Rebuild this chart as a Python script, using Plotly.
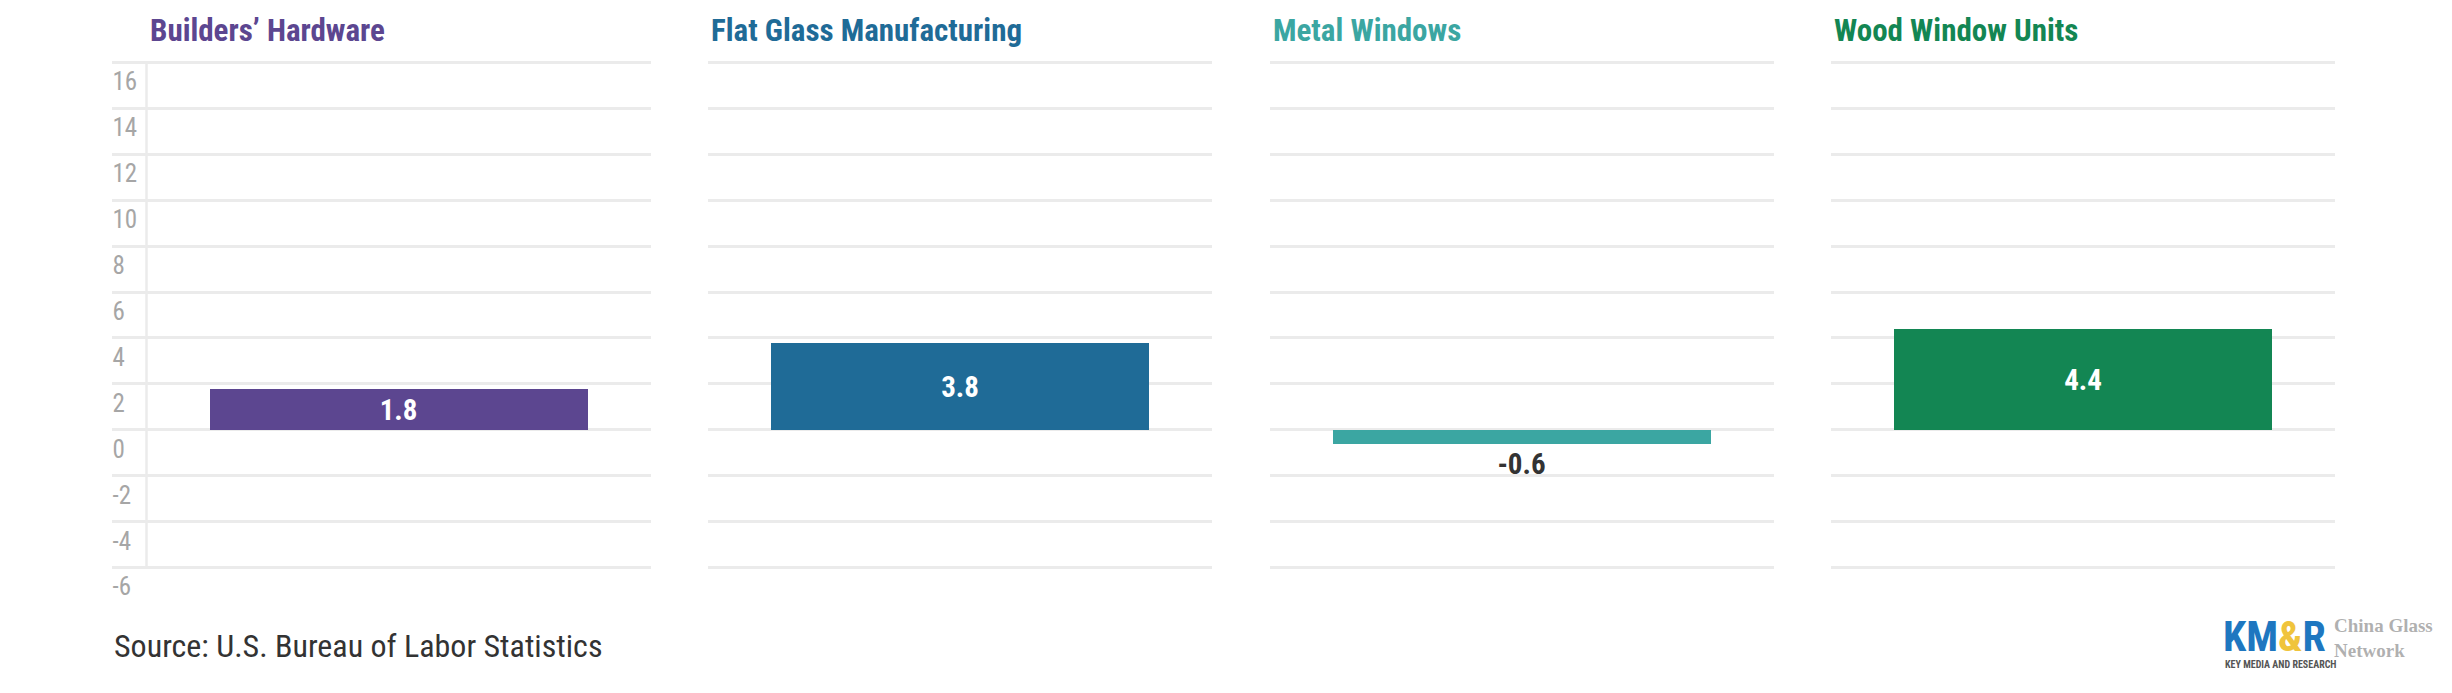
import plotly.graph_objects as go

# ---------------- data ----------------
categories = ["Builders’ Hardware", "Flat Glass Manufacturing", "Metal Windows", "Wood Window Units"]
values = [1.8, 3.8, -0.6, 4.4]
colors = ["#5C4690", "#1F6B97", "#3BA6A2", "#138653"]
y_ticks = [-6, -4, -2, 0, 2, 4, 6, 8, 10, 12, 14, 16]
y_tick_labels = ["-6", "-4", "-2", "0", "2", "4", "6", "8", "10", "12", "14", "16"]
source_text = "Source: U.S. Bureau of Labor Statistics"

# ---------------- layout constants (page pixels) ----------------
PAGE_W, PAGE_H = 2452, 693
OFF = 8                      # default body margin of the html page
FW, FH = PAGE_W - OFF, PAGE_H - OFF
FONT = "Roboto Condensed, Roboto, Arial Narrow, sans-serif"
panel_left = [146.5, 708.0, 1269.5, 1831.0]
panel_w = 504.0
grid_ext = 35.0              # gridlines of first panel extend left under tick labels
plot_top, plot_bottom = 62.3, 567.7
GRID = "#EBEBEB"


def px(x):
    return (x - OFF) / FW


def py(y):
    return 1 - (y - OFF) / FH


ymin, ymax = y_ticks[0], y_ticks[-1]
eps = 0.1
ppu = (plot_bottom - plot_top) / (ymax - ymin)
ydom = [py(plot_bottom + eps * ppu), py(plot_top - eps * ppu)]

fig = go.Figure()

for i, (cat, v, col) in enumerate(zip(categories, values, colors)):
    xa = "x" if i == 0 else f"x{i+1}"
    ya = "y" if i == 0 else f"y{i+1}"
    fig.add_trace(go.Bar(
        x=[cat], y=[v], xaxis=xa, yaxis=ya,
        marker=dict(color=col, line=dict(width=0)),
        width=0.75,
        text=[f"{v:.1f}"],
        textposition="inside" if v >= 0 else "outside",
        insidetextanchor="middle",
        constraintext="none",
        textfont=dict(family=FONT, size=29, weight="bold",
                      color="white" if v >= 0 else "#333333"),
        cliponaxis=False,
        hoverinfo="skip",
    ))

layout = dict(
    width=FW, height=FH,
    margin=dict(l=0, r=0, t=0, b=0, autoexpand=False),
    paper_bgcolor="white", plot_bgcolor="white",
    showlegend=False,
    bargap=0,
    font=dict(family=FONT),
)

for i in range(4):
    xk = "xaxis" if i == 0 else f"xaxis{i+1}"
    yk = "yaxis" if i == 0 else f"yaxis{i+1}"
    ya_name = "y" if i == 0 else f"y{i+1}"
    xa_name = "x" if i == 0 else f"x{i+1}"
    left = panel_left[i]
    if i == 0:
        dom = [px(left - grid_ext), px(left + panel_w)]
        rng = [-0.5 - grid_ext / panel_w, 0.5]
    else:
        dom = [px(left), px(left + panel_w)]
        rng = [-0.5, 0.5]
    layout[xk] = dict(domain=dom, range=rng, type="category", anchor=ya_name,
                      showgrid=False, zeroline=False, showline=False,
                      showticklabels=False, ticks="", fixedrange=True)
    yax = dict(domain=ydom, range=[ymin - eps, ymax + eps],
               tickvals=y_ticks, ticktext=y_tick_labels,
               showgrid=True, gridcolor=GRID, gridwidth=2.5,
               zeroline=False, showline=False, ticks="", fixedrange=True,
               automargin=False)
    if i == 0:
        yax.update(anchor="free", position=px(left - grid_ext), side="right",
                   showticklabels=True, ticklabelshift=19, ticklabelstandoff=0,
                   tickfont=dict(family=FONT, size=25, color="#A6A6A6"))
    else:
        yax.update(anchor=xa_name, matches="y", showticklabels=False)
    layout[yk] = yax

fig.update_layout(**layout)

# vertical axis line of first panel
fig.add_shape(type="line", xref="x domain", yref="y",
              x0=grid_ext / (grid_ext + panel_w), x1=grid_ext / (grid_ext + panel_w),
              y0=ymin, y1=ymax, line=dict(color=GRID, width=2.5), layer="below")

# panel titles
for i, (cat, col) in enumerate(zip(categories, colors)):
    fig.add_annotation(text=cat, xref="paper", yref="paper",
                       x=px(panel_left[i] + 1), y=py(30),
                       xanchor="left", yanchor="middle", showarrow=False,
                       font=dict(family=FONT, size=31, weight="bold", color=col))

# source
fig.add_annotation(text=source_text, xref="paper", yref="paper",
                   x=px(panel_left[0] - grid_ext), y=py(646),
                   xanchor="left", yanchor="middle", showarrow=False,
                   font=dict(family=FONT, size=32, color="#333333"))

# logo (text approximation)
fig.add_annotation(text="KM<span style='color:#F0C43C'>&</span>R", xref="paper", yref="paper",
                   x=px(2221), y=py(636), xanchor="left", yanchor="middle",
                   showarrow=False,
                   font=dict(family=FONT, size=42, weight="bold", color="#1E77C0"))
fig.add_annotation(text="KEY MEDIA AND RESEARCH", xref="paper", yref="paper",
                   x=px(2223), y=py(664), xanchor="left", yanchor="middle",
                   showarrow=False,
                   font=dict(family=FONT, size=10, weight="bold", color="#555555"))
fig.add_annotation(text="China Glass<br>Network", xref="paper", yref="paper",
                   x=px(2332), y=py(638), xanchor="left", yanchor="middle",
                   align="left", showarrow=False,
                   font=dict(family="Liberation Serif, DejaVu Serif, serif", size=19,
                             weight="bold", color="rgba(150,150,150,0.75)"))

fig.write_html("out.html", config={"displayModeBar": False})
